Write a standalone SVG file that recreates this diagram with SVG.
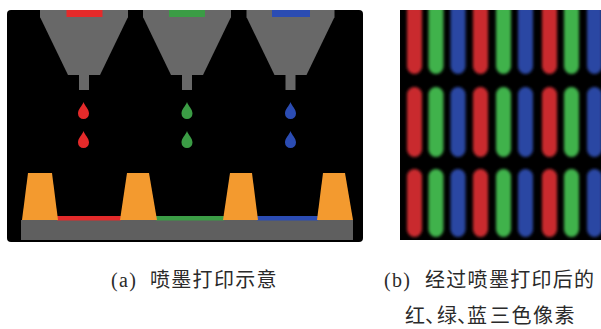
<svg xmlns="http://www.w3.org/2000/svg" width="601" height="329" viewBox="0 0 601 329">
  <style>
    .panel { fill: #000; }
    .funnel { fill: #686868; }
    .base { fill: #5f5f5f; }
    .bank { fill: #f39a2f; }
    .red { fill: #e42a2a; }
    .green { fill: #3b9c45; }
    .blue { fill: #2b4cb3; }
    .pr { fill: #c9292f; }
    .pg { fill: #40b24b; }
    .pb { fill: #2a46a3; }
    .cap { font-family: "Liberation Serif", "Noto Sans CJK SC", serif; font-size: 20px; fill: #2a2a2a; letter-spacing: 1.3px; }
  </style>
  <defs>
    <!-- teardrop, tip at the origin -->
    <path id="drop" d="M0,0 C1.2,4 5.5,7 5.5,11.5 A5.5,5.5 0 0 1 -5.5,11.5 C-5.5,7 -1.2,4 0,0 Z"/>
    <!-- funnel-shaped print head, centred on x=0 -->
    <g id="head">
      <rect class="funnel" x="-44" y="10" width="88" height="7.5"/>
      <path class="funnel" d="M-44,17 L44,17 L16,75 L-16,75 Z"/>
      <rect class="funnel" x="-5" y="74" width="10" height="16"/>
    </g>
    <clipPath id="clipB">
      <rect x="400" y="10" width="201" height="230"/>
    </clipPath>
    <filter id="soft" x="-10%" y="-10%" width="120%" height="120%">
      <feGaussianBlur stdDeviation="1.4"/>
    </filter>
    <!-- one column of three sub-pixel rows -->
    <g id="col">
      <rect x="-7.5" y="0" width="15" height="72" rx="7.5"/>
      <rect x="-7.5" y="85" width="15" height="70" rx="7.5"/>
      <rect x="-7.5" y="167" width="15" height="68" rx="7.5"/>
    </g>
  </defs>

  <!-- (a) inkjet printing schematic -->
  <g id="printing">
    <rect class="panel" x="7" y="10" width="356" height="232" rx="4"/>

    <g id="head-red">
      <use href="#head" transform="translate(84,0)"/>
      <rect class="red" x="66.5" y="10" width="36" height="7"/>
      <use href="#drop" class="red" transform="translate(83.5,102)"/>
      <use href="#drop" class="red" transform="translate(83.5,131)"/>
    </g>
    <g id="head-green">
      <use href="#head" transform="translate(187,0)"/>
      <rect class="green" x="169" y="10" width="36" height="7"/>
      <use href="#drop" class="green" transform="translate(187,102)"/>
      <use href="#drop" class="green" transform="translate(187,131)"/>
    </g>
    <g id="head-blue">
      <use href="#head" transform="translate(290.5,0)"/>
      <rect class="blue" x="272" y="10" width="38" height="7"/>
      <use href="#drop" class="blue" transform="translate(290.5,102)"/>
      <use href="#drop" class="blue" transform="translate(290.5,131)"/>
    </g>

    <g id="substrate">
      <rect class="base" x="21" y="220" width="332" height="20"/>
      <rect class="red" x="57" y="216" width="64" height="4.5"/>
      <rect class="green" x="156" y="216" width="68" height="4.5"/>
      <rect class="blue" x="257" y="216" width="61" height="4.5"/>
      <path class="bank" d="M28,173 L52,173 L58,220 L22,220 Z"/>
      <path class="bank" d="M127,173 L149,173 L157,220 L120,220 Z"/>
      <path class="bank" d="M230,173 L252,173 L258,220 L223,220 Z"/>
      <path class="bank" d="M323,173 L345,173 L353,220 L317,220 Z"/>
    </g>
  </g>

  <!-- (b) printed RGB sub-pixels -->
  <g id="pixels">
    <rect class="panel" x="400" y="10" width="201" height="230"/>
    <g clip-path="url(#clipB)">
      <g filter="url(#soft)">
        <use href="#col" class="pr" transform="translate(414.5,2)"/>
        <use href="#col" class="pg" transform="translate(436,2)"/>
        <use href="#col" class="pb" transform="translate(458,2)"/>
        <use href="#col" class="pr" transform="translate(480.5,2)"/>
        <use href="#col" class="pg" transform="translate(503.5,2)"/>
        <use href="#col" class="pb" transform="translate(525.5,2)"/>
        <use href="#col" class="pr" transform="translate(549.5,2)"/>
        <use href="#col" class="pg" transform="translate(571.5,2)"/>
        <use href="#col" class="pb" transform="translate(594.5,2)"/>
      </g>
    </g>
  </g>

  <!-- captions -->
  <g id="captions">
    <text class="cap" y="286.5"><tspan x="111">(a)</tspan><tspan x="150">喷墨打印示意</tspan></text>
    <text class="cap" y="286.5"><tspan x="384">(b)</tspan><tspan x="425">经过喷墨打印后的</tspan></text>
    <text class="cap" y="322.5" x="405 425 437 457 467 490 511.5 533 554.5">红、绿、蓝三色像素</text>
  </g>
</svg>
